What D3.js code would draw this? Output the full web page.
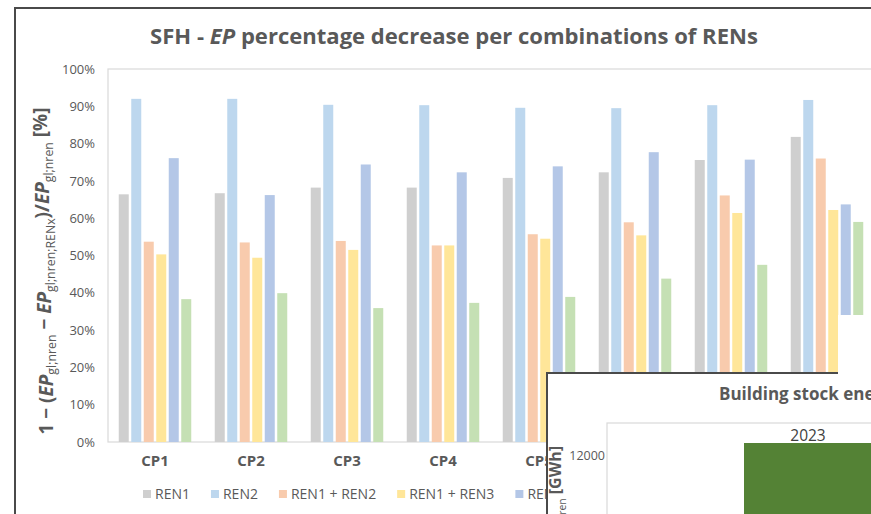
<!DOCTYPE html>
<html>
<head>
<meta charset="utf-8">
<script src="https://cdn.jsdelivr.net/npm/d3@7"></script>
<style>
  body { margin: 0; background: #fff; }
  svg { display: block; font-family: "Open Sans", sans-serif; }
</style>
</head>
<body>
<svg id="chart" width="871" height="514"></svg>
<script>
// ---- data ----
const categories = ["CP1", "CP2", "CP3", "CP4", "CP5", "CP6", "CP7", "CP8"];
const seriesNames = ["REN1", "REN2", "REN1 + REN2", "REN1 + REN3", "REN2 + REN3", "REN1 + REN2 + REN3"];
const ren1   = [66.4, 66.7, 68.2, 68.2, 70.8, 72.3, 75.6, 81.8];
const ren2   = [92.0, 92.0, 90.4, 90.3, 89.6, 89.5, 90.3, 91.7];
const ren12  = [53.7, 53.5, 53.9, 52.7, 55.7, 58.9, 66.1, 76.0];
const ren13  = [50.3, 49.4, 51.5, 52.7, 54.5, 55.4, 61.4, 62.2];
const ren23  = [76.1, 66.2, 74.4, 72.3, 73.9, 77.7, 75.7, 63.7];
const ren123 = [38.3, 39.9, 35.9, 37.3, 38.9, 43.8, 47.5, 59.0];
const yTicks = [0, 10, 20, 30, 40, 50, 60, 70, 80, 90, 100];

// inset chart (mostly hidden behind the frame edge)
const insetYears = ["2023"];
const insetValues = [12400];
const insetTicks = [12000];

const colors = ["#cfcfcf", "#bdd7ee", "#f8cbad", "#ffe699", "#b4c7e7", "#c5e0b4"];
const seriesValues = [ren1, ren2, ren12, ren13, ren23, ren123];

const svg = d3.select("#chart");
const W = 871, H = 514;
const textColor = "#595959";

// slide frame
svg.append("path")
  .attr("d", `M15,${H} V8 H${W}`)
  .attr("fill", "none")
  .attr("stroke", "#4a4a4a")
  .attr("stroke-width", 2);

// -------- scales --------
const plot = { left: 108, top: 69, bottom: 442 };
const x0 = d3.scaleBand().domain(categories).range([107, 875]).padding(0);
const x1 = d3.scaleBand().domain(seriesNames).range([0, x0.bandwidth()])
  .paddingInner(0.2).paddingOuter(0.94);
const y = d3.scaleLinear().domain([0, 100]).range([plot.bottom, plot.top]);

// plot area border
svg.append("rect")
  .attr("x", plot.left).attr("y", plot.top)
  .attr("width", W - plot.left + 10).attr("height", plot.bottom - plot.top)
  .attr("fill", "none").attr("stroke", "#d9d9d9").attr("stroke-width", 1.2);

// title
const title = svg.append("text")
  .attr("x", 454).attr("y", 44)
  .attr("text-anchor", "middle")
  .attr("font-weight", "bold")
  .attr("font-size", 21)
  .attr("fill", textColor);
title.append("tspan").text("SFH - ");
title.append("tspan").attr("font-style", "italic").text("EP");
title.append("tspan").text(" percentage decrease per combinations of RENs");
const tl = title.node().getComputedTextLength();
title.attr("font-size", 21 * 608 / tl);

// bars
const rows = categories.map((c, i) => ({
  cat: c,
  vals: seriesNames.map((s, j) => ({ key: s, value: seriesValues[j][i], color: colors[j] }))
}));

const groups = svg.append("g").selectAll("g")
  .data(rows).enter().append("g")
  .attr("transform", d => `translate(${x0(d.cat)},0)`);

groups.selectAll("rect")
  .data(d => d.vals).enter().append("rect")
  .attr("x", d => x1(d.key))
  .attr("width", x1.bandwidth())
  .attr("y", d => y(d.value))
  .attr("height", d => y(0) - y(d.value))
  .attr("fill", d => d.color);

// y axis (labels only)
const yAxis = svg.append("g")
  .attr("transform", `translate(${plot.left},0)`)
  .call(d3.axisLeft(y).tickValues(yTicks).tickFormat(d => d + "%").tickSize(0).tickPadding(13));
yAxis.select(".domain").remove();
yAxis.selectAll("text")
  .attr("font-family", "Open Sans")
  .attr("font-size", 13)
  .attr("fill", textColor);

// x axis labels
const xAxis = svg.append("g")
  .attr("transform", `translate(0,${plot.bottom})`)
  .call(d3.axisBottom(x0).tickSize(0).tickPadding(13));
xAxis.select(".domain").remove();
xAxis.selectAll("text")
  .attr("font-family", "Open Sans")
  .attr("font-weight", "bold")
  .attr("font-size", 15)
  .attr("fill", textColor);

// y axis title
const yt = svg.append("text")
  .attr("transform", "translate(53,271) rotate(-90)")
  .attr("text-anchor", "middle")
  .attr("font-weight", "bold")
  .attr("font-size", 16)
  .attr("fill", textColor);
function sub(t) {
  yt.append("tspan").attr("font-weight", "normal").attr("font-size", "0.65em").attr("dy", "0.28em").text(t);
}
function up(t) {
  yt.append("tspan").attr("dy", "-0.28em").text(t);
}
yt.append("tspan").text("1 \u2212 (");
yt.append("tspan").attr("font-style", "italic").text("EP");
sub("gl;nren");
up(" \u2212 ");
yt.append("tspan").attr("font-style", "italic").text("EP");
sub("gl;nren;RENx");
up(")/");
yt.append("tspan").attr("font-style", "italic").text("EP");
sub("gl;nren");
up(" [%]");
const ytl = yt.node().getComputedTextLength();
yt.attr("font-size", 16 * 327 / ytl);

// legend
const legend = svg.append("g").attr("transform", "translate(143,494)");
let lx = 0;
seriesNames.forEach((s, j) => {
  const g = legend.append("g").attr("transform", `translate(${lx},0)`);
  g.append("rect").attr("x", 0).attr("y", -4).attr("width", 8).attr("height", 8).attr("fill", colors[j]);
  const t = g.append("text").attr("x", 12).attr("y", 5)
    .attr("font-size", 14).attr("fill", textColor).text(s);
  lx += 12 + t.node().getComputedTextLength() + 21;
});

// white patch covering the end of the last group
svg.append("rect")
  .attr("x", 838).attr("y", 315).attr("width", W - 838).attr("height", H - 315)
  .attr("fill", "#fff");

// -------- inset chart --------
const inset = svg.append("g");
inset.append("rect")
  .attr("x", 546).attr("y", 372).attr("width", W - 546).attr("height", H - 372)
  .attr("fill", "#fff");
inset.append("path")
  .attr("d", `M547,${H} V373 H838`)
  .attr("fill", "none").attr("stroke", "#4a4a4a").attr("stroke-width", 2);

const iy = d3.scaleLinear().domain([0, 13000]).range([815, 425]);
const ix = d3.scaleBand().domain(insetYears).range([616, 1000]).padding(0.5);

inset.append("rect")
  .attr("x", 607).attr("y", 423).attr("width", W - 607 + 10).attr("height", 200)
  .attr("fill", "none").attr("stroke", "#d9d9d9").attr("stroke-width", 1.2);

inset.append("text")
  .attr("x", 719).attr("y", 400)
  .attr("font-weight", "bold").attr("font-size", 17)
  .attr("fill", textColor)
  .text("Building stock energy");

inset.selectAll(".ibar")
  .data(insetYears).enter().append("rect")
  .attr("class", "ibar")
  .attr("x", d => ix(d))
  .attr("width", ix.bandwidth())
  .attr("y", (d, i) => iy(insetValues[i]))
  .attr("height", (d, i) => iy(0) - iy(insetValues[i]))
  .attr("fill", "#548235");

inset.selectAll(".iyear")
  .data(insetYears).enter().append("text")
  .attr("class", "iyear")
  .attr("x", d => ix(d) + ix.bandwidth() / 2)
  .attr("y", 441)
  .attr("text-anchor", "middle")
  .attr("font-size", 15.5)
  .attr("fill", "#404040")
  .text(d => d);

const iAxis = inset.append("g")
  .attr("transform", "translate(607,0)")
  .call(d3.axisLeft(iy).tickValues(insetTicks).tickFormat(d3.format("d")).tickSize(0).tickPadding(2));
iAxis.select(".domain").remove();
iAxis.selectAll("text")
  .attr("font-family", "Open Sans")
  .attr("font-size", 12.5)
  .attr("fill", textColor);

const iyt = inset.append("text")
  .attr("transform", "translate(563,446) rotate(-90)")
  .attr("text-anchor", "end")
  .attr("font-weight", "bold")
  .attr("font-size", 16)
  .attr("fill", textColor);
iyt.append("tspan").attr("font-style", "italic").text("E");
iyt.append("tspan").attr("font-weight", "normal").attr("font-size", "0.65em").attr("dy", "0.3em").text("gl;nren");
iyt.append("tspan").attr("dy", "-0.3em").text(" [GWh]");
</script>
</body>
</html>
